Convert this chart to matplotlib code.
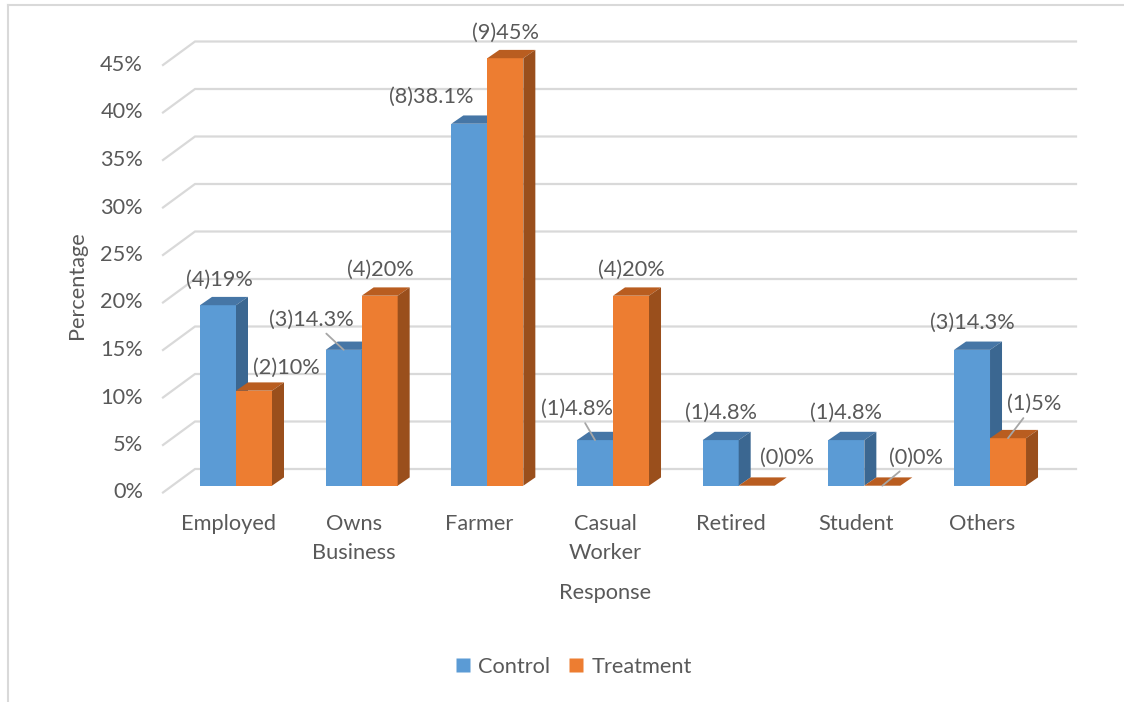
import matplotlib
matplotlib.use("Agg")
import matplotlib.pyplot as plt
from matplotlib.patches import Polygon
from matplotlib.lines import Line2D

# ---- data ----
categories = ["Employed", "Owns\nBusiness", "Farmer", "Casual\nWorker", "Retired", "Student", "Others"]
series_names = ["Control", "Treatment"]
control_pct = [19, 14.3, 38.1, 4.8, 4.8, 4.8, 14.3]
control_n = [4, 3, 8, 1, 1, 1, 3]
treatment_pct = [10, 20, 45, 20, 0, 0, 5]
treatment_n = [2, 4, 9, 4, 0, 0, 1]
y_ticks = [0, 5, 10, 15, 20, 25, 30, 35, 40, 45]

# ---- style ----
plt.rcParams["font.family"] = ["Lato", "DejaVu Sans"]
TXT = "#595959"
GRID = "#d9d9d9"
FS = 15.7
face_cols = {"Control": ("#5b9bd5", "#4676a6", "#3b6791"),
             "Treatment": ("#ed7d31", "#b95d20", "#9a4f1c")}

W, H = 1124, 702
fig = plt.figure(figsize=(W / 100, H / 100), dpi=100)
ax = fig.add_axes([0, 0, 1, 1])
ax.axis("off")

# pixel scale of the front plane of the bars
PX_CAT = 125.67        # pixels per category
PX_PCT = 9.5           # pixels per percent
X0, Y0 = 236, 485.7    # pixel position of first cluster centre / 0 %
ax.set_xlim(-X0 / PX_CAT, (W - X0) / PX_CAT)
ax.set_ylim((Y0 - H) / PX_PCT, Y0 / PX_PCT)

def dx(px):
    return px / PX_CAT

def dy(px):
    return px / PX_PCT

bar_w = dx(36)
depth = (dx(12), dy(8.3))

# ---- chart frame (left and top borders) ----
ax.plot([dx(7.5 - X0), dx(7.5 - X0)], [dy(Y0 - 5), dy(Y0 - H)], color=GRID, lw=1.5, zorder=0)
ax.plot([dx(7.5 - X0), dx(W - X0)], [dy(Y0 - 5), dy(Y0 - 5)], color=GRID, lw=1.5, zorder=0)

# ---- gridlines: side wall diagonal + back wall ----
wall_front_x, wall_back_x, wall_right_x = dx(163 - X0), dx(195 - X0), dx(1076 - X0)
front_off, back_off = dy(-6.8), dy(16.7)
for t in y_ticks:
    ax.plot([wall_front_x, wall_back_x, wall_right_x],
            [t + front_off, t + back_off, t + back_off],
            color=GRID, lw=1.6, zorder=1, solid_joinstyle="miter")
    ax.text(dx(143 - X0), t + front_off, f"{t}%", ha="right", va="center",
            fontsize=FS, color=TXT)

# ---- 3D columns ----
def column(x_left, h, name):
    front, top, side = face_cols[name]
    ddx, ddy = depth
    ax.bar(x_left, h, width=bar_w, align="edge", color=front, zorder=3, linewidth=0)
    ax.add_patch(Polygon([(x_left, h), (x_left + bar_w, h),
                          (x_left + bar_w + ddx, h + ddy), (x_left + ddx, h + ddy)],
                         closed=True, facecolor=top, edgecolor="none", zorder=3))
    ax.add_patch(Polygon([(x_left + bar_w, 0), (x_left + bar_w + ddx, ddy),
                          (x_left + bar_w + ddx, h + ddy), (x_left + bar_w, h)],
                         closed=True, facecolor=side, edgecolor="none", zorder=3))

# label offsets in pixels from the bar's front-top centre, and whether a leader line is drawn
ctrl_off = [(1, 25), (-32, 30), (-38, 27), (-18, 31), (0, 27), (0, 27), (0, 27)]
ctrl_lead = [False, True, False, True, False, False, False]
trt_off = [(32, 23), (1, 26), (0, 25), (0, 26), (30, 28), (34, 28), (26, 34)]
trt_lead = [False, False, False, False, False, True, True]

def label(x_left, h, n, pct, off, lead):
    pt = (x_left + bar_w / 2, h)
    kw = {}
    if lead:
        kw["arrowprops"] = dict(arrowstyle="-", color="#a6a6a6", lw=1.3,
                                shrinkA=1, shrinkB=0)
    ax.annotate(f"({n}){pct:g}%", xy=pt, xytext=off, textcoords="offset pixels",
                ha="center", va="center", fontsize=FS, color=TXT, zorder=5, **kw)

for i in range(len(categories)):
    xl_c = i - bar_w
    xl_t = i
    column(xl_c, control_pct[i], "Control")
    column(xl_t, treatment_pct[i], "Treatment")
    label(xl_c, control_pct[i], control_n[i], control_pct[i], ctrl_off[i], ctrl_lead[i])
    label(xl_t, treatment_pct[i], treatment_n[i], treatment_pct[i], trt_off[i], trt_lead[i])
    ax.text(i - dx(8), dy(Y0 - 514), categories[i], ha="center", va="top",
            fontsize=FS, color=TXT, linespacing=1.55)

# ---- axis titles ----
ax.text(dx(77 - X0), dy(Y0 - 285), "Percentage", rotation=90, ha="center", va="center",
        fontsize=FS, color=TXT)
ax.text(dx(605 - X0), dy(Y0 - 593), "Response", ha="center", va="center",
        fontsize=FS, color=TXT)

# ---- legend ----
handles = [Line2D([], [], marker="s", linestyle="none", markersize=10,
                  markerfacecolor=face_cols[s][0], markeredgecolor="none") for s in series_names]
fig.legend(handles, series_names, loc="center", bbox_to_anchor=(572 / W, 1 - 667 / H),
           ncol=2, frameon=False, fontsize=FS, labelcolor=TXT, handletextpad=0.2,
           columnspacing=0.7, handlelength=1.0)

fig.savefig("out.png", dpi=100)
